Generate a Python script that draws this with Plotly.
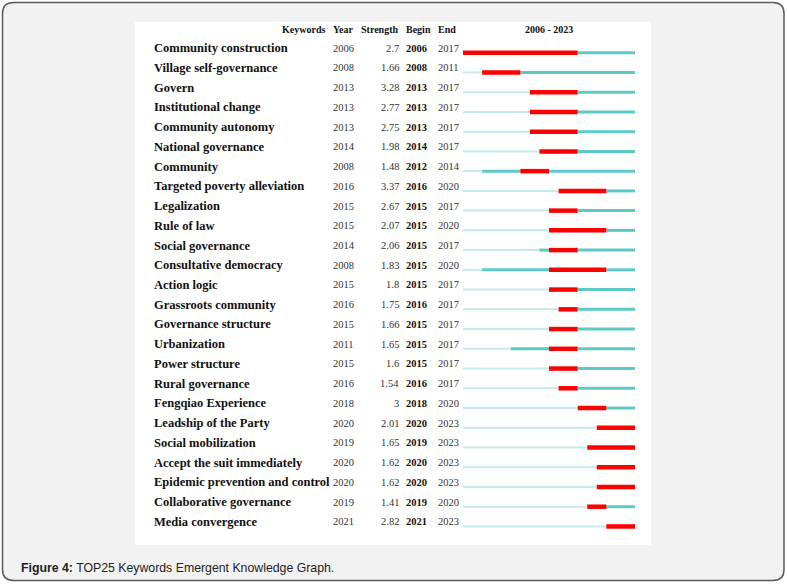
import plotly.graph_objects as go

keywords = ["Community construction", "Village self-governance", "Govern", "Institutional change",
            "Community autonomy", "National governance", "Community", "Targeted poverty alleviation",
            "Legalization", "Rule of law", "Social governance", "Consultative democracy", "Action logic",
            "Grassroots community", "Governance structure", "Urbanization", "Power structure",
            "Rural governance", "Fengqiao Experience", "Leadship of the Party", "Social mobilization",
            "Accept the suit immediately", "Epidemic prevention and control", "Collaborative governance",
            "Media convergence"]
years = [2006, 2008, 2013, 2013, 2013, 2014, 2008, 2016, 2015, 2015, 2014, 2008, 2015, 2016, 2015,
         2011, 2015, 2016, 2018, 2020, 2019, 2020, 2020, 2019, 2021]
strength = [2.7, 1.66, 3.28, 2.77, 2.75, 1.98, 1.48, 3.37, 2.67, 2.07, 2.06, 1.83, 1.8, 1.75, 1.66,
            1.65, 1.6, 1.54, 3, 2.01, 1.65, 1.62, 1.62, 1.41, 2.82]
begin = [2006, 2008, 2013, 2013, 2013, 2014, 2012, 2016, 2015, 2015, 2015, 2015, 2015, 2016, 2015,
         2015, 2015, 2016, 2018, 2020, 2019, 2020, 2020, 2019, 2021]
end = [2017, 2011, 2017, 2017, 2017, 2017, 2014, 2020, 2017, 2020, 2017, 2020, 2017, 2017, 2017,
       2017, 2017, 2017, 2020, 2023, 2023, 2023, 2023, 2020, 2023]
span_start, span_end = 2006, 2023
header = ["Keywords", "Year", "Strength", "Begin", "End", f"{span_start} - {span_end}"]
caption_bold = "Figure 4:"
caption_rest = " TOP25 Keywords Emergent Knowledge Graph."

W, H = 787, 585
def px(x):
    return x / W
def py(y):
    return 1 - y / H

# row geometry (rows index -> pixel)
row0, row_step = 52.7, 19.74
y_lo = -row0 / row_step
y_hi = (H - row0) / row_step

light_x, light_y, teal_x, teal_y, red_x, red_y = [], [], [], [], [], []
for i in range(len(keywords)):
    if years[i] > span_start:
        light_x += [span_start, years[i], None]
        light_y += [i, i, None]
    if begin[i] > years[i]:
        teal_x += [years[i], begin[i], None]
        teal_y += [i, i, None]
    red_x += [begin[i], end[i] + 1, None]
    red_y += [i, i, None]
    if end[i] < span_end:
        teal_x += [end[i] + 1, span_end + 1, None]
        teal_y += [i, i, None]

fig = go.Figure()
fig.add_trace(go.Scatter(x=light_x, y=light_y, mode="lines",
                         line=dict(color="#c6eaea", width=2), hoverinfo="skip"))
fig.add_trace(go.Scatter(x=teal_x, y=teal_y, mode="lines",
                         line=dict(color="#5cc8c8", width=3), hoverinfo="skip"))
fig.add_trace(go.Scatter(x=red_x, y=red_y, mode="lines",
                         line=dict(color="#ff0000", width=4.5), hoverinfo="skip"))

serif = "Liberation Serif, Times New Roman, serif"
ann = []
for i, kw in enumerate(keywords):
    common = dict(xref="paper", yref="y", y=i, yshift=4.6, showarrow=False, yanchor="middle")
    ann.append(dict(text=f"<b>{kw}</b>", x=px(151.5), xanchor="left",
                    font=dict(family=serif, size=12.5, color="#111"), **common))
    ann.append(dict(text=str(years[i]), x=px(331), xanchor="left",
                    font=dict(family=serif, size=10.5, color="#333"), **common))
    ann.append(dict(text=f"{strength[i]:g}", x=px(401), xanchor="right",
                    font=dict(family=serif, size=10.5, color="#333"), **common))
    ann.append(dict(text=f"<b>{begin[i]}</b>", x=px(404), xanchor="left",
                    font=dict(family=serif, size=10.5, color="#111"), **common))
    ann.append(dict(text=str(end[i]), x=px(436), xanchor="left",
                    font=dict(family=serif, size=10.5, color="#333"), **common))

hy = py(29.3)
hfont = dict(family=serif, size=10, color="#111")
hpos = [(327, "right"), (331, "left"), (359, "left"), (404, "left"), (436, "left"), (549, "center")]
for (hx, anc), t in zip(hpos, header):
    ann.append(dict(text=f"<b>{t}</b>", xref="paper", yref="paper", x=px(hx), y=hy,
                    xanchor=anc, yanchor="middle", showarrow=False, font=hfont))

ann.append(dict(text=f"<b>{caption_bold}</b>{caption_rest}", xref="paper", yref="paper",
                x=px(19), y=py(568), xanchor="left", yanchor="middle", showarrow=False,
                font=dict(family="Liberation Sans, Arial, sans-serif", size=12.3, color="#222")))

# rounded frame
x0, x1, y0, y1, r = 2.5, 784, 2.5, 580.5, 11
rx, ry = r / W, r / H
X0, X1, Y0, Y1 = px(x0), px(x1), py(y0), py(y1)
path = (f"M {X0+rx},{Y0} L {X1-rx},{Y0} Q {X1},{Y0} {X1},{Y0-ry} "
        f"L {X1},{Y1+ry} Q {X1},{Y1} {X1-rx},{Y1} L {X0+rx},{Y1} Q {X0},{Y1} {X0},{Y1+ry} "
        f"L {X0},{Y0-ry} Q {X0},{Y0} {X0+rx},{Y0} Z")
shapes = [
    dict(type="path", path=path, xref="paper", yref="paper", fillcolor="#f2f2f2",
         line=dict(color="#5a5a5a", width=1.5), layer="below"),
    dict(type="rect", xref="paper", yref="paper", x0=px(135), x1=px(651), y0=py(22), y1=py(545),
         fillcolor="#ffffff", line=dict(width=0), layer="below"),
]

fig.update_layout(
    width=W, height=H, margin=dict(l=0, r=0, t=0, b=0, pad=0),
    paper_bgcolor="#ffffff", plot_bgcolor="rgba(0,0,0,0)",
    showlegend=False, annotations=ann, shapes=shapes,
    xaxis=dict(domain=[px(463), px(635)], range=[span_start, span_end + 1], visible=False, fixedrange=True),
    yaxis=dict(domain=[0, 1], range=[y_hi, y_lo], visible=False, fixedrange=True),
)
fig.write_html("out.html", config={"displayModeBar": False},
               post_script="document.body.style.margin='0';document.body.style.overflow='hidden';")
